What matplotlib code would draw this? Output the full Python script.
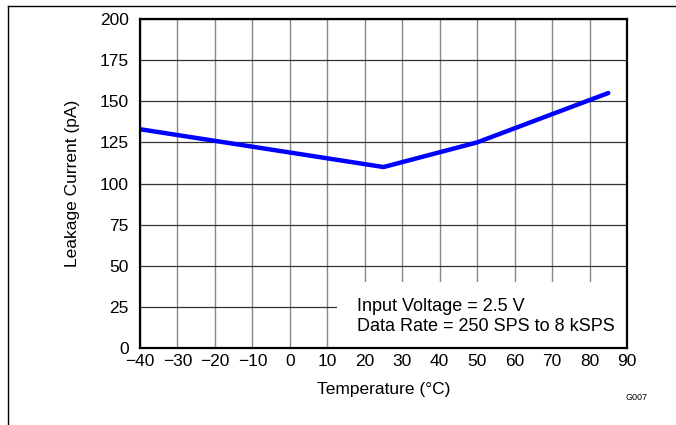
import matplotlib
matplotlib.use('Agg')
import matplotlib.pyplot as plt
from matplotlib.lines import Line2D
from matplotlib.patches import Rectangle

plt.rcParams['font.family'] = ['Liberation Sans', 'DejaVu Sans']

temps = [-40, 25, 50, 85]
leakage = [133, 110, 125, 155]
x_ticks = list(range(-40, 91, 10))
y_ticks = list(range(0, 201, 25))
note = 'Input Voltage = 2.5 V\nData Rate = 250 SPS to 8 kSPS'

fig = plt.figure(figsize=(6.76, 4.25), dpi=100)
ax = fig.add_axes([140/676, 1 - 348/425, 487/676, 329/425])

ax.set_xlim(-40, 90)
ax.set_ylim(0, 200)
ax.set_xticks(x_ticks)
ax.set_yticks(y_ticks)
ax.tick_params(length=0, labelsize=12.5)
ax.tick_params(axis='y', pad=8)
ax.tick_params(axis='x', pad=4)
ax.set_axisbelow(True)
ax.xaxis.grid(True, color='#888888', linewidth=1.0)
ax.yaxis.grid(True, color='#333333', linewidth=0.9)
for s in ax.spines.values():
    s.set_linewidth(1.6)
    s.set_zorder(5)

# white box behind the note, hides the grid
ax.add_patch(Rectangle((12.5, 0), 77.5, 40, facecolor='white', edgecolor='none', zorder=1))
ax.text(17.9, 19.0, note, fontsize=13, va='center', ha='left', linespacing=1.25, zorder=3)

ax.plot(temps, leakage, color='#0000ff', linewidth=3.2, solid_capstyle='round', zorder=4)

ax.set_xlabel('Temperature (\u00b0C)', fontsize=12.5, labelpad=10)
ax.set_ylabel('Leakage Current (pA)', fontsize=12.5, labelpad=14)

fig.text(637/676, 1 - 397/425, 'G007', fontsize=6.5, ha='center', va='center')

# page frame lines
fig.add_artist(Line2D([8/676, 1], [1 - 6/425, 1 - 6/425], color='black', linewidth=1.0))
fig.add_artist(Line2D([8/676, 8/676], [0, 1 - 6/425], color='black', linewidth=1.0))

fig.savefig('out.png', dpi=100)
